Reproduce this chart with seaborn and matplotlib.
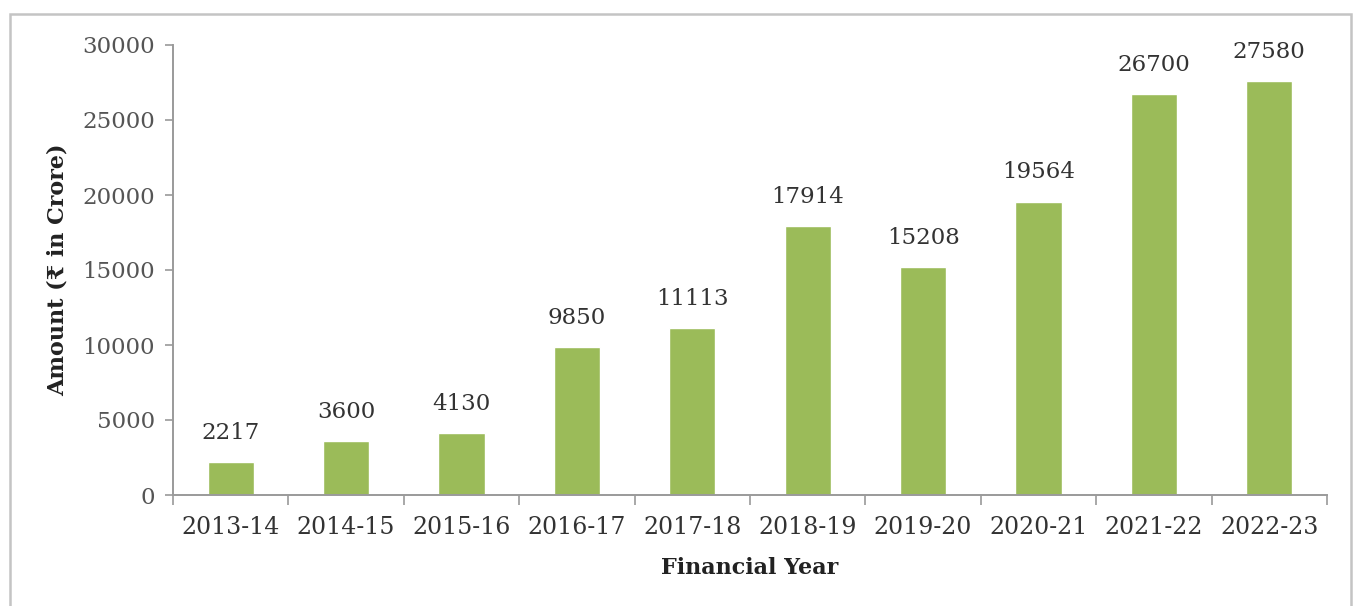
import matplotlib
matplotlib.use("Agg")
import matplotlib.pyplot as plt
from matplotlib.patches import Rectangle
from matplotlib.ticker import FixedLocator
import seaborn as sns

# Amount released per financial year (Rs. in crore)
years = ["2013-14", "2014-15", "2015-16", "2016-17", "2017-18",
         "2018-19", "2019-20", "2020-21", "2021-22", "2022-23"]
amounts = [2217, 3600, 4130, 9850, 11113, 17914, 15208, 19564, 26700, 27580]
y_ticks = [0, 5000, 10000, 15000, 20000, 25000, 30000]

sns.set_theme(style="white")
plt.rcParams["font.family"] = ["DejaVu Serif", "DejaVu Sans"]

W, H = 1353, 606
fig = plt.figure(figsize=(W / 100, H / 100), dpi=100)
ax = fig.add_axes([173 / W, 1 - 495 / H, (1327 - 173) / W, (495 - 45) / H])

bar_color = "#9BBB59"
text_color = "#333333"
axis_color = "#9A9A9A"

sns.barplot(x=years, y=amounts, color=bar_color, width=0.4, saturation=1,
            ax=ax)

ax.bar_label(ax.containers[0], labels=[str(v) for v in amounts], padding=13,
             fontsize=16.5, color=text_color)

ax.set_xlim(-0.5, len(years) - 0.5)
ax.set_ylim(0, 30000)
ax.set_yticks(y_ticks)
ax.set_yticklabels([str(t) for t in y_ticks])

# category separators on the x axis
ax.xaxis.set_minor_locator(FixedLocator([i - 0.5 for i in range(len(years) + 1)]))
ax.tick_params(axis="x", which="major", length=0, pad=15,
               labelsize=17, labelcolor=text_color)
ax.tick_params(axis="x", which="minor", bottom=True, length=7, width=1.2,
               color=axis_color, direction="out")
ax.tick_params(axis="y", which="major", left=True, length=6, width=1.2,
               color=axis_color, direction="out", pad=7,
               labelsize=16.5, labelcolor="#555555")

for side in ("top", "right"):
    ax.spines[side].set_visible(False)
for side in ("left", "bottom"):
    ax.spines[side].set_color(axis_color)
    ax.spines[side].set_linewidth(1.4)

ax.set_xlabel("Financial Year", fontsize=16, fontweight="bold",
              color="#222222", labelpad=13)
ax.set_ylabel("Amount (₹ in Crore)", fontsize=16, fontweight="bold",
              color="#222222", labelpad=10)
ax.grid(False)

# outer frame of the chart area
fig.patches.append(Rectangle((10 / W, -0.05), (1351 - 10) / W, 1.05 - 14 / H,
                             transform=fig.transFigure, fill=False,
                             edgecolor="#C4C4C4", linewidth=1.8))

fig.savefig("out.png", dpi=100, facecolor="white")
